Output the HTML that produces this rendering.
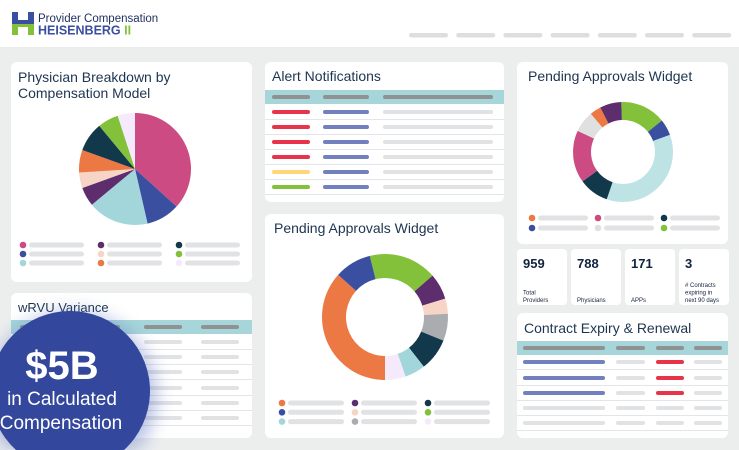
<!DOCTYPE html>
<html><head><meta charset="utf-8"><style>
html,body{margin:0;padding:0;background:#eceeee;width:739px;height:450px;overflow:hidden;font-family:"Liberation Sans",sans-serif}
svg{display:block;overflow:hidden}
text{font-family:"Liberation Sans",sans-serif}
</style></head><body>
<svg id="s" width="739" height="450" viewBox="0 0 739 450">
<defs>
<filter id="blur" x="-20%" y="-20%" width="140%" height="130%"><feGaussianBlur stdDeviation="9"/></filter>
<clipPath id="frame"><rect width="739" height="450"/></clipPath>
</defs>
<g clip-path="url(#frame)">
<rect width="739" height="450" fill="#eceeee"/>
<rect width="739" height="47" fill="#fff"/>
<g>
<rect x="12" y="12" width="6" height="11" fill="#3a4fa0"/><rect x="28" y="12" width="6" height="11" fill="#3a4fa0"/>
<rect x="12" y="20" width="22" height="4" fill="#3a4fa0"/>
<rect x="12" y="24" width="6" height="11" fill="#83c13b"/><rect x="28" y="24" width="6" height="11" fill="#83c13b"/>
<rect x="12" y="24" width="22" height="3" fill="#83c13b"/>
<text x="38" y="22" font-size="11.5" fill="#1d2f5e">Provider Compensation</text>
<text x="38" y="34.5" font-size="12.5" font-weight="bold" fill="#3a4fa0">HEISENBERG <tspan fill="#83c13b">II</tspan></text>
</g>
<g id="nav"></g>

<rect x="11" y="62" width="241" height="220" rx="6" fill="#fff"/>
<rect x="11" y="293" width="241" height="145" rx="6" fill="#fff"/>
<rect x="265" y="62" width="239" height="140" rx="6" fill="#fff"/>
<rect x="265" y="214" width="239" height="224" rx="6" fill="#fff"/>
<rect x="517" y="62" width="211" height="182" rx="6" fill="#fff"/>
<rect x="517" y="313" width="211" height="125" rx="6" fill="#fff"/>

<text x="18" y="82" font-size="14" fill="#1d3550">Physician Breakdown by</text>
<text x="18" y="98" font-size="14" fill="#1d3550">Compensation Model</text>
<text x="272" y="81" font-size="14" fill="#1d3550">Alert Notifications</text>
<text x="274" y="233" font-size="14" fill="#1d3550">Pending Approvals Widget</text>
<text x="528" y="81" font-size="14" fill="#1d3550">Pending Approvals Widget</text>
<text x="524" y="333" font-size="14" fill="#1d3550">Contract Expiry &amp; Renewal</text>
<text x="18" y="312" font-size="13" fill="#1d3550">wRVU Variance</text>

<g id="charts"></g>
<g id="stats"></g>
<g id="tables"></g>

<g>
<path d="M7.7,450 A84,84 0 1 1 136.3,450 Z" fill="#5b6fbf" opacity="0.45" filter="url(#blur)"/>
<path d="M16,450 A80,80 0 1 1 124,450 Z" fill="#33479c"/>
<text x="62" y="379" font-size="40" font-weight="bold" fill="#fff" text-anchor="middle">$5B</text>
<text x="62" y="405" font-size="19" fill="#fff" text-anchor="middle">in Calculated</text>
<text x="61" y="429" font-size="19" fill="#fff" text-anchor="middle">Compensation</text>
</g>
</g>
</svg>
<script>
const pieCategories=["pink","blue","lightblue","purple","peach","orange","dark","green","lavender"];
const pieValues=[36.7,9.7,17.6,5.5,4.5,6.5,8.5,6,5];
const pieColors=["#cc4b82","#3a4fa0","#a3d6da","#5e2d6e","#f7d5c6","#ec7843","#12384b","#83c13b","#f5eafb"];
const bigCategories=["green","purple","peach","gray","dark","lightblue","lavender","orange","blue"];
const bigValues=[63,24,14,25,30,19,19,132,34];
const bigColors=["#83c13b","#5e2d6e","#f7d5c6","#aaadb0","#12384b","#a3d6da","#f5eafb","#ec7843","#3a4fa0"];
const smallCategories=["green","blue","teal","dark","pink","gray","orange","purple"];
const smallValues=[53,19,129,35,61,25,13,25];
const smallColors=["#83c13b","#3a4fa0","#bde3e5","#12384b","#cc4b82","#e0e0e0","#ec7843","#5e2d6e"];
const statValues=["959","788","171","3"];
const statLabels=[["Total","Providers"],["Physicians"],["APPs"],["# Contracts","expiring in","next 90 days"]];

const NS="http://www.w3.org/2000/svg";
function mk(tag,attrs,parent){const e=document.createElementNS(NS,tag);for(const k in attrs)e.setAttribute(k,attrs[k]);parent.appendChild(e);return e;}
const charts=document.getElementById('charts');
function angleScale(vals,startDeg){const tot=vals.reduce((a,b)=>a+b,0);let acc=0;return vals.map(v=>{const a0=startDeg+acc/tot*360;acc+=v;return [a0,startDeg+acc/tot*360];});}
function pt(cx,cy,r,deg){const a=(deg-90)*Math.PI/180;return [cx+r*Math.cos(a),cy+r*Math.sin(a)];}
function drawPie(vals,cols,cats,cx,cy,ro,ri,start,name){
  const g=mk('g',{},charts);
  
  
  angleScale(vals,start).forEach(([a0,a1],i)=>{
    const large=(a1-a0)>180?1:0;
    const [x0,y0]=pt(cx,cy,ro,a0),[x1,y1]=pt(cx,cy,ro,a1);
    let d;
    if(ri>0){const [x2,y2]=pt(cx,cy,ri,a1),[x3,y3]=pt(cx,cy,ri,a0);
      d=`M${x0},${y0}A${ro},${ro} 0 ${large} 1 ${x1},${y1}L${x2},${y2}A${ri},${ri} 0 ${large} 0 ${x3},${y3}Z`;}
    else d=`M${cx},${cy}L${x0},${y0}A${ro},${ro} 0 ${large} 1 ${x1},${y1}Z`;
    const p=mk('path',{d:d,fill:cols[i]},g);
    
    
  });
}
function legend(cols,x0,y0,colW,rowH,rows,pillW,order,name){
  const g=mk('g',{},charts);
  
  
  order.forEach((ci,k)=>{
    const c=Math.floor(k/rows),r=k%rows;
    const x=x0+c*colW,y=y0+r*rowH;
    const dot=mk('circle',{cx:x,cy:y,r:3.3,fill:cols[ci]},g);
    
    
    mk('rect',{x:x+6,y:y-2.5,width:pillW,height:5,rx:2.5,fill:'#e1e2e4'},g);
  });
}
drawPie(pieValues,pieColors,pieCategories,135,169,56,0,0,'physician-pie-chart');
legend(pieColors,23,245,78,9,3,55,[0,1,2,3,4,5,6,7,8],'physician-pie-legend');
drawPie(bigValues,bigColors,bigCategories,385,317,63,39,-14,'pending-donut-large');
legend(bigColors,282,403,73,9.3,3,56,[7,8,5,1,2,3,4,0,6],'pending-donut-large-legend');
drawPie(smallValues,smallColors,smallCategories,623,152,50,32,-2,'pending-donut-small');
legend(smallColors,532,218,66,10,2,50,[6,1,4,5,3,0],'pending-donut-small-legend');

const nav=document.getElementById('nav');
for(let i=0;i<7;i++){const r=mk('rect',{x:409+i*47.2,y:33,width:39,height:4.5,rx:2.2,fill:'#dcdee0'},nav);

}

const stats=document.getElementById('stats');
statValues.forEach((v,i)=>{
  const x=517+i*54;
  const b=mk('rect',{x:x,y:249,width:50,height:56,rx:4,fill:'#fff'},stats);
  
  
  const t=mk('text',{x:x+6,y:268,'font-size':13,'font-weight':'bold',fill:'#12233f'},stats);t.textContent=v;
  
  
  const L=statLabels[i];
  L.forEach((s,j)=>{const tt=mk('text',{x:x+6,y:302-(L.length-1-j)*7.5,'font-size':6,fill:'#12233f'},stats);tt.textContent=s;
  
  });
});

const tables=document.getElementById('tables');
function table(name,x,w,hy,rowYs,cols,rowColors){
  const g=mk('g',{},tables);
  
  
  mk('rect',{x:x,y:hy,width:w,height:14,fill:'#a6d6da'},g);
  cols.forEach(([cx,cw])=>mk('rect',{x:cx,y:hy+5,width:cw,height:4,rx:2,fill:'#8f9192'},g));
  rowYs.forEach((y,r)=>{
    mk('line',{x1:x,x2:x+w,y1:y+7.5,y2:y+7.5,stroke:'#e4e5e6','stroke-width':1},g);
    cols.forEach(([cx,cw],c)=>{const rr=mk('rect',{x:cx,y:y-2,width:cw,height:4,rx:2,fill:rowColors[r][c]},g);
      
      });
  });
}
const R='#e8344a',B='#7380c0',G='#e1e2e4',Y='#ffd67a',GR='#83c13b';
table('alert-table',265,239,90,[112,127,142,157,172,187],[[272,38],[323,46],[383,110]],
  [[R,B,G],[R,B,G],[R,B,G],[R,B,G],[Y,B,G],[GR,B,G]]);
table('wrvu-table',11,241,320,[342,357,372,388,403,418],[[20,100],[144,38],[201,38]],
  Array(6).fill([G,G,G]));
table('contract-table',517,211,341,[362,378,393,408,423],[[523,82],[616,29],[656,28],[694,28]],
  [[B,G,R,G],[B,G,R,G],[B,G,R,G],[G,G,G,G],[G,G,G,G]]);
</script>
</body></html>
